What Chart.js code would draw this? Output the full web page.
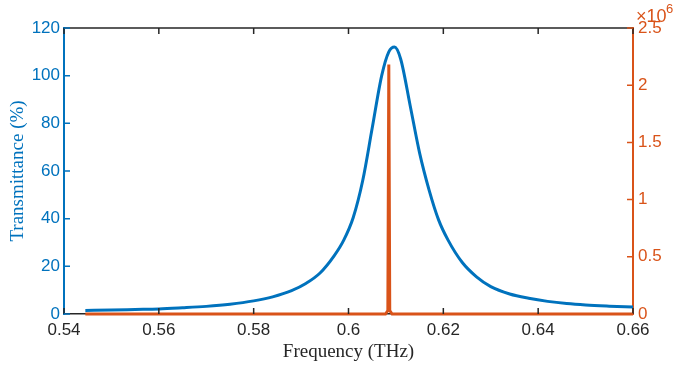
<!DOCTYPE html>
<html>
<head>
<meta charset="utf-8">
<script src="https://cdn.jsdelivr.net/npm/chart.js@4/dist/chart.umd.min.js"></script>
<style>
  body { margin: 0; background: #fff; }
  #wrap { width: 685px; height: 365px; }
</style>
</head>
<body>
<div id="wrap"><canvas id="transChart" width="685" height="365"></canvas></div>
<script>
// transmittance curve
var freqBlue = [0.5445, 0.55, 0.555, 0.56, 0.565, 0.57, 0.575, 0.58, 0.584, 0.588, 0.591, 0.594,
    0.597, 0.599, 0.601, 0.603, 0.605, 0.607, 0.6085, 0.6097, 0.611, 0.613, 0.615, 0.617,
    0.619, 0.621, 0.624, 0.627, 0.63, 0.634, 0.638, 0.642, 0.646, 0.65, 0.655, 0.66];
var transBlue = [1.5, 1.7, 1.9, 2.1, 2.6, 3.2, 4.1, 5.5, 7.2, 9.8, 12.8, 17.2,
    24.5, 31, 40.5, 56, 78, 100, 110, 112, 107, 87.5, 67.5, 52,
    39.5, 31, 21.6, 15.6, 11.5, 8.4, 6.6, 5.3, 4.4, 3.8, 3.3, 2.9];

// right axis series (narrow spike)
var freqOrange = [0.5445, 0.6078, 0.6083, 0.6085, 0.6087, 0.6092, 0.66];
var valOrange = [0, 0, 30000, 2180000, 30000, 0, 0];

var xTicks = [0.54, 0.56, 0.58, 0.6, 0.62, 0.64, 0.66];
var leftTicks = [0, 20, 40, 60, 80, 100, 120];
var rightTicks = [0, 0.5e6, 1e6, 1.5e6, 2e6, 2.5e6];

var blue = '#0072BD';
var orange = '#D95319';
var dark = '#262626';

function pts(xs, ys) {
    return xs.map(function (x, i) { return { x: x, y: ys[i] }; });
}

// MATLAB style inward ticks, box top line and the x10^6 exponent
var boxPlugin = {
    id: 'boxPlugin',
    afterDraw: function (chart) {
        var ctx = chart.ctx;
        var a = chart.chartArea;
        var sx = chart.scales.x, sl = chart.scales.yL, sr = chart.scales.yR;
        var len = 6;
        ctx.save();
        ctx.lineWidth = 1.5;
        ctx.strokeStyle = dark;
        ctx.beginPath();
        ctx.moveTo(a.left, a.top);
        ctx.lineTo(a.right, a.top);
        xTicks.forEach(function (t) {
            var px = sx.getPixelForValue(t);
            ctx.moveTo(px, a.bottom);
            ctx.lineTo(px, a.bottom - len);
            ctx.moveTo(px, a.top);
            ctx.lineTo(px, a.top + len);
        });
        ctx.stroke();
        ctx.strokeStyle = blue;
        ctx.beginPath();
        leftTicks.forEach(function (t) {
            var py = sl.getPixelForValue(t);
            ctx.moveTo(a.left, py);
            ctx.lineTo(a.left + len, py);
        });
        ctx.stroke();
        ctx.strokeStyle = orange;
        ctx.beginPath();
        rightTicks.forEach(function (t) {
            var py = sr.getPixelForValue(t);
            ctx.moveTo(a.right, py);
            ctx.lineTo(a.right - len, py);
        });
        ctx.stroke();
        ctx.fillStyle = orange;
        ctx.textBaseline = 'alphabetic';
        ctx.textAlign = 'left';
        ctx.font = '18px "Liberation Sans", Arial, sans-serif';
        ctx.fillText('\u00d710', a.right + 3, 22);
        ctx.font = '13px "Liberation Sans", Arial, sans-serif';
        ctx.fillText('6', a.right + 33, 13);
        ctx.restore();
    }
};

var tickFont = { family: '"Liberation Sans", Arial, sans-serif', size: 17 };
var titleFont = { family: '"Liberation Serif", "DejaVu Serif", serif', size: 19 };

var chart = new Chart(document.getElementById('transChart').getContext('2d'), {
    type: 'line',
    data: {
        datasets: [{
            label: 'Transmittance',
            data: pts(freqBlue, transBlue),
            yAxisID: 'yL',
            borderColor: blue,
            borderWidth: 3,
            pointRadius: 0,
            cubicInterpolationMode: 'monotone',
            fill: false,
            clip: 4,
            order: 1
        }, {
            label: 'Spike',
            data: pts(freqOrange, valOrange),
            yAxisID: 'yR',
            borderColor: orange,
            borderWidth: 3,
            pointRadius: 0,
            tension: 0,
            fill: false,
            clip: 4,
            order: 0
        }]
    },
    options: {
        responsive: false,
        animation: false,
        layout: { padding: { top: 28, left: 0, right: 0, bottom: 0 } },
        plugins: {
            legend: { display: false },
            tooltip: { enabled: false }
        },
        scales: {
            x: {
                type: 'linear',
                min: 0.54,
                max: 0.66,
                afterBuildTicks: function (s) { s.ticks = xTicks.map(function (v) { return { value: v }; }); },
                afterFit: function (s) { s.height = 51; },
                grid: { display: false, drawTicks: false },
                border: { display: true, color: dark, width: 1.5 },
                ticks: {
                    color: dark,
                    font: tickFont,
                    padding: 6,
                    maxRotation: 0,
                    callback: function (v) { return String(+v.toFixed(2)); }
                },
                title: {
                    display: true,
                    text: 'Frequency (THz)',
                    color: dark,
                    font: titleFont,
                    padding: { top: 0, bottom: 2 }
                }
            },
            yL: {
                type: 'linear',
                position: 'left',
                min: 0,
                max: 120,
                afterBuildTicks: function (s) { s.ticks = leftTicks.map(function (v) { return { value: v }; }); },
                afterFit: function (s) { s.width = 64; },
                grid: { display: false, drawTicks: false },
                border: { display: true, color: blue, width: 2 },
                ticks: { color: blue, font: tickFont, padding: 4 },
                title: {
                    display: true,
                    text: 'Transmittance (%)',
                    color: blue,
                    font: titleFont,
                    padding: { top: 7, bottom: 0 }
                }
            },
            yR: {
                type: 'linear',
                position: 'right',
                min: 0,
                max: 2.5e6,
                afterBuildTicks: function (s) { s.ticks = rightTicks.map(function (v) { return { value: v }; }); },
                afterFit: function (s) { s.width = 52; },
                grid: { display: false, drawTicks: false },
                border: { display: true, color: orange, width: 2 },
                ticks: {
                    color: orange,
                    font: tickFont,
                    padding: 5,
                    callback: function (v) { return String(v / 1e6); }
                }
            }
        }
    },
    plugins: [boxPlugin]
});
</script>
</body>
</html>
